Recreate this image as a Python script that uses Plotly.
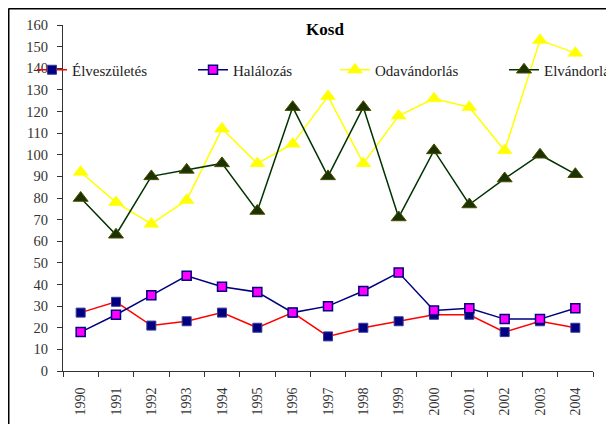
import plotly.graph_objects as go

years = ["1990", "1991", "1992", "1993", "1994", "1995", "1996", "1997",
         "1998", "1999", "2000", "2001", "2002", "2003", "2004"]
elveszuletes = [27, 32, 21, 23, 27, 20, 27, 16, 20, 23, 26, 26, 18, 23, 20]
halalozas = [18, 26, 35, 44, 39, 36.5, 27, 30, 37, 45.5, 28, 29, 24, 24, 29]
odavandorlas = [92, 78, 68, 79, 112, 96, 105, 127, 96, 118, 126, 122, 102, 153, 147]
elvandorlas = [80, 63, 90, 93, 96, 74, 122, 90, 122, 71, 102, 77, 89, 100, 91]
y_ticks = list(range(0, 161, 10))

FONT = "Liberation Serif, Times New Roman, serif"
# page has an 8px body margin, so the figure is laid out 8px up/left
W, H = 598, 416
L, R, T, B = 55, 13, 17, 53

fig = go.Figure()
fig.add_trace(go.Scatter(
    x=years, y=elveszuletes, name="Élveszületés", mode="lines+markers",
    line=dict(color="#ff0000", width=1.5),
    marker=dict(symbol="square", size=9, color="#000080",
                line=dict(color="#3a3a9a", width=1)),
    legend="legend"))
fig.add_trace(go.Scatter(
    x=years, y=halalozas, name="Halálozás", mode="lines+markers",
    line=dict(color="#000080", width=1.5),
    marker=dict(symbol="square", size=9, color="#ff00ff",
                line=dict(color="#000080", width=1.5)),
    legend="legend2"))
fig.add_trace(go.Scatter(
    x=years, y=odavandorlas, name="Odavándorlás", mode="lines+markers",
    line=dict(color="#ffff00", width=1.5),
    marker=dict(symbol="triangle-up", size=13, color="#ffff00",
                line=dict(color="#ffff00", width=0.5)),
    legend="legend3"))
fig.add_trace(go.Scatter(
    x=years, y=elvandorlas, name="Elvándorlás", mode="lines+markers",
    line=dict(color="#003300", width=1.5),
    marker=dict(symbol="triangle-up", size=13, color="#1a3300",
                line=dict(color="#4d4d00", width=1)),
    legend="legend4"))

def leg(xpx):
    return dict(x=xpx / W, xref="container", y=1 - 62 / H, yref="container",
                xanchor="left", yanchor="middle", bgcolor="rgba(0,0,0,0)",
                font=dict(family=FONT, size=15, color="#222222"),
                borderwidth=0, itemwidth=30)

fig.update_layout(
    width=W, height=H,
    margin=dict(l=L, r=R, t=T, b=B, autoexpand=False),
    paper_bgcolor="white", plot_bgcolor="white",
    title=dict(text="<b>Kosd</b>", x=317 / W, xanchor="center",
               y=1 - 21 / H, yanchor="middle",
               font=dict(family=FONT, size=17, color="black")),
    legend=leg(24), legend2=leg(185), legend3=leg(327), legend4=leg(496),
    xaxis=dict(type="category", categoryorder="array", categoryarray=years,
               tickson="boundaries", ticks="outside", ticklen=5,
               tickcolor="#333333", showline=True, linecolor="#333333",
               linewidth=1, showgrid=False, tickangle=-90,
               ticklabelstandoff=10,
               tickfont=dict(family=FONT, size=14, color="#333333"),
               range=[-0.5, len(years) - 0.5], automargin=False),
    yaxis=dict(range=[0, 160], tickvals=y_ticks, ticks="outside", ticklen=5,
               tickcolor="#333333", showline=True, linecolor="#333333",
               linewidth=1, showgrid=False, zeroline=False, automargin=False,
               ticklabelstandoff=6,
               tickfont=dict(family=FONT, size=14.5, color="#333333")),
    showlegend=True,
)

# outer chart frame: only the left and top edges fall inside the picture
pw, ph = W - L - R, H - T - B
fx0 = (0.5 - L) / pw
fy1 = 1 + (T - 0.5) / ph
fig.add_shape(type="line", xref="paper", yref="paper",
              x0=fx0, x1=fx0, y0=-B / ph, y1=fy1,
              line=dict(color="black", width=2), layer="below")
fig.add_shape(type="line", xref="paper", yref="paper",
              x0=fx0, x1=(W - L) / pw, y0=fy1, y1=fy1,
              line=dict(color="black", width=2), layer="below")

fig.write_html("out.html")
